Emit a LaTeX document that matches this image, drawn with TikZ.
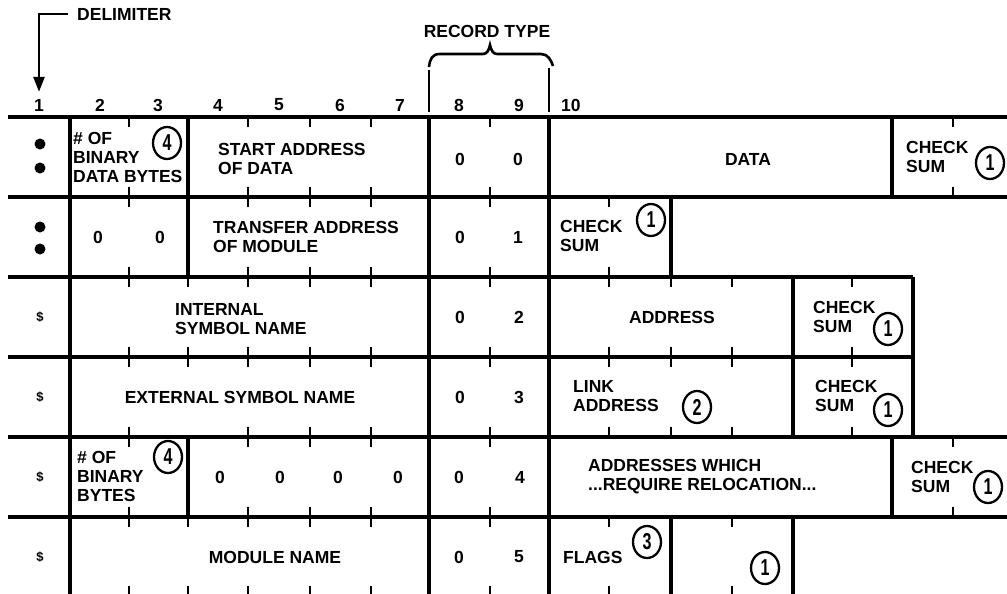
\documentclass[tikz,border=0pt]{standalone}
\usepackage{fontspec}
\setmainfont{Liberation Sans}
\usepackage{graphicx}
\usetikzlibrary{shapes.geometric,arrows.meta}
\newcommand\tktop[2]{\foreach \tx in {#1}{\draw[tk] (\tx,#2) -- ++(0,10);}}
\newcommand\tkbot[2]{\foreach \tx in {#1}{\draw[tk] (\tx,#2) -- ++(0,-10);}}
\newcommand\cnum[1]{\scalebox{0.7}[1]{#1}}
\begin{document}
\begin{tikzpicture}[x=1pt,y=-1pt,
  ln/.style={line width=3.1pt},
  tk/.style={line width=2.8pt},
  lbl/.style={font=\fontsize{17.5}{19}\selectfont\bfseries, inner sep=0pt},
  ml/.style={lbl, align=left, anchor=west},
  dollar/.style={font=\fontsize{13}{13}\selectfont\bfseries, inner sep=0pt},
  dot/.style={circle, fill=black, minimum size=11pt, inner sep=0pt},
  num/.style={ellipse, draw, line width=2.3pt, minimum width=28pt, minimum height=32pt, inner sep=0pt,
     font=\fontsize{23}{23}\selectfont\bfseries}
]
\useasboundingbox (0,0) rectangle (1007,594);
\clip (0,0) rectangle (1007,594);

% ---------- header ----------
\node[lbl, anchor=west] (delim) at (77,14) {DELIMITER};
\node[lbl] (rt) at (487,31) {RECORD TYPE};
\node[lbl] (h1) at (39,105) {1};
\node[lbl] (h2) at (100,105) {2};
\node[lbl] (h3) at (158,105) {3};
\node[lbl] (h4) at (218,105) {4};
\node[lbl] (h5) at (279,105) {5};
\node[lbl] (h6) at (340,105) {6};
\node[lbl] (h7) at (400,105) {7};
\node[lbl] (h8) at (459,105) {8};
\node[lbl] (h9) at (519,105) {9};
\node[lbl, anchor=west] (h10) at (561,105) {10};
\draw[line width=2.6pt, -{Triangle[width=11pt,length=15pt]}]
  ([xshift=-9pt]delim.west) -| ([yshift=7pt]h1.north);
\draw[line width=2.6pt] (429,70) -- (429,112);
\draw[line width=2.6pt] (549,68) -- (549,112);
\draw[line width=2.6pt] (429,67) .. controls (430,59) and (432,54) .. (440,54) -- (483,54)
  .. controls (487,54) and (489,50) .. (490,45) .. controls (491,50) and (493,54) .. (497,54)
  -- (541,54) .. controls (548,54) and (551,60) .. (553,66);

% ---------- grid lines ----------
\draw[ln] (8,117) -- (1010,117);
\draw[ln] (8,197) -- (1010,197);
\draw[ln] (8,277) -- (913,277);
\draw[ln] (8,357) -- (913,357);
\draw[ln] (8,437) -- (1010,437);
\draw[ln] (8,517) -- (1010,517);
\draw[ln] (70,117) -- (70,600);
\draw[ln] (429,117) -- (429,600);
\draw[ln] (549,117) -- (549,600);
\draw[ln] (188,117) -- (188,277);
\draw[ln] (188,437) -- (188,517);
\draw[ln] (892,117) -- (892,197);
\draw[ln] (892,437) -- (892,517);
\draw[ln] (671,197) -- (671,277);
\draw[ln] (671,517) -- (671,600);
\draw[ln] (793,277) -- (793,437);
\draw[ln] (913,277) -- (913,437);
\draw[ln] (793,517) -- (793,600);

% ---------- ticks ----------
\tktop{129,248,310,371,490,953}{117}
\tkbot{129,248,310,371,490,953}{197}
\tktop{129,248,310,371,490,609}{197}
\tkbot{129,248,310,371,490,609}{277}
\tktop{129,188,248,310,371,490,609,671,732,852}{277}
\tkbot{129,188,248,310,371,490,609,671,732,852}{357}
\tktop{129,188,248,310,371,490,609,671,732,852}{357}
\tkbot{129,248,310,371,490,609,671,732,852}{437}
\tktop{129,248,310,371,490,953}{437}
\tkbot{129,248,310,371,490,953}{517}
\tktop{129,188,248,310,371,490,609,732}{517}
\tkbot{129,188,248,310,371,490,609,732}{596}

% ---------- row 1 ----------
\node[dot] (b1a) at (40,144) {};
\node[dot] (b1b) at (40,168) {};
\node[ml] (r1a) at (73,157) {\# OF\\BINARY\\DATA BYTES};
\node[num] (c1a) at (167,143) {\cnum{4}};
\node[ml] (r1b) at (218,159) {START ADDRESS\\OF DATA};
\node[lbl] (r1c) at (460,159) {0};
\node[lbl] (r1d) at (518,159) {0};
\node[lbl] (r1e) at (748,159) {DATA};
\node[ml] (r1f) at (906,157) {CHECK\\SUM};
\node[num] (c1b) at (990,163) {\cnum{1}};

% ---------- row 2 ----------
\node[dot] (b2a) at (40,227) {};
\node[dot] (b2b) at (40,249) {};
\node[lbl] (r2a) at (98,237) {0};
\node[lbl] (r2b) at (160,237) {0};
\node[ml] (r2c) at (213,237) {TRANSFER ADDRESS\\OF MODULE};
\node[lbl] (r2d) at (460,237) {0};
\node[lbl] (r2e) at (518,237) {1};
\node[ml] (r2f) at (560,236) {CHECK\\SUM};
\node[num] (c2a) at (651,220) {\cnum{1}};

% ---------- row 3 ----------
\node[dollar] (d3) at (40,317) {\$};
\node[ml] (r3a) at (175,319) {INTERNAL\\SYMBOL NAME};
\node[lbl] (r3b) at (460,317) {0};
\node[lbl] (r3c) at (519,317) {2};
\node[lbl] (r3d) at (672,317) {ADDRESS};
\node[ml] (r3e) at (813,317) {CHECK\\SUM};
\node[num] (c3a) at (888,329) {\cnum{1}};

% ---------- row 4 ----------
\node[dollar] (d4) at (40,397) {\$};
\node[lbl] (r4a) at (240,397) {EXTERNAL SYMBOL NAME};
\node[lbl] (r4b) at (460,397) {0};
\node[lbl] (r4c) at (519,397) {3};
\node[ml] (r4d) at (573,396) {LINK\\ADDRESS};
\node[num] (c4a) at (697,407) {\cnum{2}};
\node[ml] (r4e) at (815,396) {CHECK\\SUM};
\node[num] (c4b) at (888,410) {\cnum{1}};

% ---------- row 5 ----------
\node[dollar] (d5) at (40,477) {\$};
\node[ml] (r5a) at (77,476) {\# OF\\BINARY\\BYTES};
\node[num] (c5a) at (168,457) {\cnum{4}};
\node[lbl] (r5b) at (220,477) {0};
\node[lbl] (r5c) at (280,477) {0};
\node[lbl] (r5d) at (338,477) {0};
\node[lbl] (r5e) at (398,477) {0};
\node[lbl] (r5f) at (459,477) {0};
\node[lbl] (r5g) at (520,477) {4};
\node[ml] (r5h) at (588,477) {ADDRESSES WHICH\\...REQUIRE RELOCATION...};
\node[ml] (r5i) at (911,477) {CHECK\\SUM};
\node[num] (c5b) at (988,487) {\cnum{1}};

% ---------- row 6 ----------
\node[dollar] (d6) at (40,557) {\$};
\node[lbl] (r6a) at (275,557) {MODULE NAME};
\node[lbl] (r6b) at (459,557) {0};
\node[lbl] (r6c) at (519,557) {5};
\node[lbl, anchor=west] (r6d) at (563,557) {FLAGS};
\node[num] (c6a) at (647,542) {\cnum{3}};
\node[num] (c6b) at (765,568) {\cnum{1}};
\end{tikzpicture}
\end{document}
